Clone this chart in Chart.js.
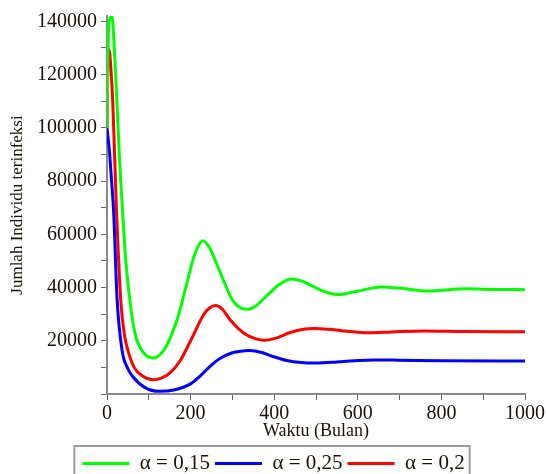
<!DOCTYPE html>
<html>
<head>
<meta charset="utf-8">
<script src="https://cdn.jsdelivr.net/npm/chart.js@4/dist/chart.umd.min.js"></script>
<style>
  html, body { margin: 0; padding: 0; overflow: hidden; background: #ffffff; }
  #wrap { width: 547px; height: 484px; }
</style>
</head>
<body>
<div id="wrap"><canvas id="chart" width="547" height="484"></canvas></div>
<script>
// Infected individuals over time (months) for three values of alpha
const seriesLabels = ['\u03b1 = 0,15', '\u03b1 = 0,25', '\u03b1 = 0,2'];
const seriesColors = ['#00ff00', '#0000ff', '#ff0000'];

const timeAlpha015 = [0, 2, 5, 12, 18, 24, 30, 36, 45, 55, 67, 85, 110, 125, 140, 155, 170, 190, 210, 229, 245, 270, 300, 320, 337, 355, 389, 413, 441, 465, 492, 525, 551, 590, 656, 710, 764, 859, 930, 1000];
const infAlpha015  = [100000, 125000, 140000, 141800, 128000, 108900, 88000, 71900, 50000, 34900, 22700, 16000, 13500, 14500, 17500, 22500, 29000, 41000, 52500, 57600, 55000, 46000, 35300, 32300, 31800, 33000, 37900, 41200, 43200, 42500, 40500, 38200, 37400, 38300, 40200, 39600, 38700, 39500, 39300, 39200];

const timeAlpha025 = [0, 6, 10, 16, 24, 36, 50, 62, 90, 125, 160, 200, 222, 246, 270, 300, 320, 342, 370, 395, 430, 465, 500, 550, 600, 640, 700, 800, 1000];
const infAlpha025  = [100000, 91000, 82000, 68000, 36000, 16400, 9500, 6500, 2500, 1000, 1500, 3800, 6600, 10300, 13300, 15500, 16100, 16300, 15600, 14200, 12600, 11800, 11600, 12000, 12600, 12800, 12700, 12500, 12400];

const timeAlpha02 = [0, 2, 5, 9, 14, 22, 33, 42, 50, 65, 85, 110, 130, 150, 175, 200, 230, 245, 260, 275, 294, 315, 334, 355, 377, 400, 437, 470, 496, 530, 560, 600, 628, 680, 760, 850, 1000];
const infAlpha02  = [100000, 125000, 129300, 123000, 108900, 71900, 34900, 22000, 16400, 10000, 6800, 5400, 6000, 7800, 12500, 20000, 29500, 32300, 33200, 32000, 28000, 24500, 22200, 20800, 20200, 20800, 23000, 24300, 24600, 24300, 23800, 23200, 23000, 23300, 23700, 23500, 23400];

const xTickValues = [0, 100, 200, 300, 400, 500, 600, 700, 800, 900, 1000];
const yTickValues = [0, 10000, 20000, 30000, 40000, 50000, 60000, 70000, 80000, 90000, 100000, 110000, 120000, 130000, 140000];

const toPoints = (ts, vs) => ts.map((t, i) => ({ x: t, y: vs[i] }));

const serif = "'Liberation Serif', 'Times New Roman', serif";
const axisGray = '#8a8a8a';
const textColor = '#1a1206';

const makeSet = (i, ts, vs) => ({
  label: seriesLabels[i],
  data: toPoints(ts, vs),
  borderColor: seriesColors[i],
  backgroundColor: seriesColors[i],
  borderWidth: 3,
  pointRadius: 0,
  cubicInterpolationMode: 'monotone',
  fill: false
});

// Frame drawn around the legend entries
const legendFrame = {
  id: 'legendFrame',
  afterDraw(chart) {
    const lg = chart.legend;
    if (!lg || !lg.legendHitBoxes || !lg.legendHitBoxes.length) return;
    const boxes = lg.legendHitBoxes;
    const left = Math.min(...boxes.map(b => b.left)) - 8;
    const right = Math.max(...boxes.map(b => b.left + b.width)) + 5;
    const top = lg.top - 2;
    const bottom = lg.bottom + 4;
    const ctx = chart.ctx;
    ctx.save();
    ctx.strokeStyle = '#9a9a9a';
    ctx.lineWidth = 2;
    ctx.strokeRect(left, top, right - left, bottom - top);
    ctx.restore();
  }
};

new Chart(document.getElementById('chart'), {
  type: 'line',
  data: {
    datasets: [
      makeSet(0, timeAlpha015, infAlpha015),
      makeSet(1, timeAlpha025, infAlpha025),
      makeSet(2, timeAlpha02, infAlpha02)
    ]
  },
  options: {
    responsive: false,
    animation: false,
    devicePixelRatio: 1,
    layout: { padding: { top: 10, right: 0, left: 0, bottom: 0 } },
    plugins: {
      tooltip: { enabled: false },
      legend: {
        position: 'bottom',
        labels: {
          font: { family: serif, size: 21 },
          color: textColor,
          boxWidth: 47,
          boxHeight: 3,
          padding: 5,
          generateLabels(chart) {
            return Chart.defaults.plugins.legend.labels.generateLabels(chart).map(l => ({ ...l, lineWidth: 0 }));
          }
        }
      }
    },
    scales: {
      x: {
        type: 'linear',
        min: 0,
        max: 1000,
        afterBuildTicks: s => { s.ticks = xTickValues.map(v => ({ value: v })); },
        afterFit: s => { s.height = 54; },
        ticks: {
          autoSkip: false,
          maxRotation: 0,
          padding: 2,
          color: textColor,
          font: { family: serif, size: 20 },
          callback: v => (v % 200 === 0 ? String(v) : '')
        },
        grid: { drawOnChartArea: false, tickLength: 6, color: '#666666' },
        border: { color: axisGray, width: 2 },
        title: {
          display: true,
          text: 'Waktu (Bulan)',
          color: textColor,
          font: { family: serif, size: 18 },
          padding: { top: 0, bottom: 6 }
        }
      },
      y: {
        type: 'linear',
        min: 0,
        max: 142000,
        afterBuildTicks: s => { s.ticks = yTickValues.map(v => ({ value: v })); },
        afterFit: s => { s.width = 107; },
        ticks: {
          autoSkip: false,
          padding: 4,
          color: textColor,
          font: { family: serif, size: 20 },
          callback: v => (v > 0 && v % 20000 === 0 ? String(v) : '')
        },
        grid: { drawOnChartArea: false, tickLength: 6, color: '#666666' },
        border: { color: axisGray, width: 2 },
        title: {
          display: true,
          text: 'Jumlah Individu terinfeksi',
          color: textColor,
          font: { family: serif, size: 17 },
          padding: { top: 7, bottom: 0 }
        }
      }
    }
  },
  plugins: [legendFrame]
});
</script>
</body>
</html>
